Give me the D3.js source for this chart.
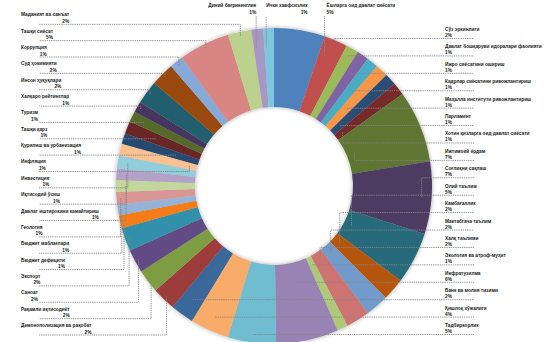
<!DOCTYPE html>
<html>
<head>
<meta charset="utf-8">
<script src="https://cdn.jsdelivr.net/npm/d3@7"></script>
<style>
  html, body { margin: 0; padding: 0; background: #fff; }
  svg { display: block; }
</style>
</head>
<body>
<svg id="chart" width="560" height="342"></svg>
<script>
// Topics, in clockwise order starting from 12 o'clock
const categories = [
  "Ёшларга оид давлат сиёсати", "Сўз эркинлиги", "Давлат бошқаруви идоралари фаолияти",
  "Ижро сиёсатини ошириш", "Кадрлар сиёсатини ривожлантириш", "Маҳалла институти ривожлантириш",
  "Парламент", "Хотин қизларга оид давлат сиёсати", "Ижтимоий ёрдам", "Соғлиқни сақлаш",
  "Олий таълим", "Камбағаллик", "Мактабгача таълим", "Халқ таълими", "Экология ва атроф-муҳит",
  "Инфратузилма", "Тадбиркорлик", "Қишлоқ хўжалиги", "Банк ва молия тизими",
  "Демонополизация ва рақобат", "Рақамли иқтисодиёт", "Саноат", "Экспорт", "Бюджет дефицити",
  "Бюджет маблағлари", "Геология", "Давлат иштирокини камайтириш", "Иқтисодий ўсиш",
  "Инвестиция", "Инфляция", "Қурилиш ва урбанизация", "Ташқи қарз", "Туризм",
  "Халқаро рейтинглар", "Инсон ҳуқуқлари", "Суд ҳокимияти", "Коррупция", "Ташқи сиёсат",
  "Маданият ва санъат", "Диний бағрикенглик", "Ички хавфсизлик"
];

// Share of each topic, percent
const values = [
  5.2, 2.4, 1.3, 1.2, 1.2, 1.3, 1.2, 1.3, 7.4, 7.4,
  5.3, 2.3, 2.4, 2.4, 1.1, 6.4, 4.9, 4.0, 2.4, 2.4,
  2.4, 2.4, 2.4, 1.3, 1.1, 1.3, 1.2, 1.2, 1.3, 1.2,
  1.1, 1.3, 1.1, 1.1, 2.4, 2.4, 1.4, 5.2, 2.4, 1.2,
  1.1
];

// Slice colours (office-style cycle)
const palette = [
  "#4F81BD", "#C0504D", "#9BBB59", "#8064A2", "#4BACC6", "#F79646",
  "#2C4D75", "#772C2A", "#5F7530", "#4D3B62", "#276A7C", "#B65708",
  "#729ACA", "#CD7371", "#AFC97A", "#9983B5", "#6FBDD1", "#F9AB6B",
  "#3A679A", "#9C3C3A", "#7E9D43", "#624C84", "#3190AA", "#F57C12",
  "#95B3D7", "#D99694", "#C3D69B", "#B3A2C7", "#92CDDC", "#FAC08F",
  "#254870", "#6A2826", "#546A2C", "#44345E", "#225F6E", "#994A08",
  "#86AAD8", "#D88584", "#BDD18F", "#A897C4", "#7DC6DC"
];

const data = categories.map((c, i) => ({ name: c, value: values[i] }));
const total = d3.sum(values);
const fmtPct = d3.format(".0%");

const cx = 274, cy = 186, outerR = 158, innerR = 79;
const svg = d3.select("#chart");

const defs = svg.append("defs");
const shadow = defs.append("filter").attr("id", "ringShadow")
  .attr("x", "-10%").attr("y", "-10%").attr("width", "120%").attr("height", "120%");
shadow.append("feDropShadow").attr("dx", 0).attr("dy", 0)
  .attr("stdDeviation", 2.2).attr("flood-color", "#000").attr("flood-opacity", 0.35);

const pie = d3.pie().sort(null).value(d => d.value);
const arcs = pie(data);
const arc = d3.arc().innerRadius(innerR).outerRadius(outerR);

const ring = svg.append("g").attr("transform", `translate(${cx},${cy})`);
ring.append("g").attr("filter", "url(#ringShadow)")
  .selectAll("path").data(arcs).join("path")
  .attr("d", arc)
  .attr("fill", (d, i) => palette[i]);

// Label slots
const rightSlots = d3.range(1, 16).concat([18, 17, 16]);
const leftSlots = d3.range(38, 18, -1);
const topSlots = [39, 40, 0];

const rightY = d3.scaleLinear().domain([0, rightSlots.length - 1]).range([29, 325]);
const leftY = d3.scaleLinear().domain([0, leftSlots.length - 1]).range([14.3, 325]);

const leaders = svg.append("g")
  .attr("fill", "none").attr("stroke", "#858585")
  .attr("stroke-width", 0.85).attr("stroke-dasharray", "1.4,0.8");
const labels = svg.append("g")
  .attr("font-family", "'Liberation Sans', Arial, sans-serif").attr("font-size", 5.8)
  .attr("font-weight", "bold").attr("fill", "#1a1a1a");

// Narrow the label face: the longest right-hand label spans about 97px
const probe = labels.append("text").text(categories[2]);
const squeeze = Math.min(1, 97 / probe.node().getComputedTextLength());
probe.remove();

function addText(x, y, str, anchor) {
  const t = labels.append("text")
    .attr("transform", `translate(${x},${y}) scale(${squeeze},1)`)
    .attr("text-anchor", anchor || "start").text(str);
  return t.node().getComputedTextLength() * squeeze;
}

const midAngle = a => (a.startAngle + a.endAngle) / 2;

// Point inside the slice on the mid-angle ray at height ly (kept within the ring)
function anchorAt(a, ly) {
  const t = midAngle(a);
  let r = (cy - ly) / Math.cos(t);
  if (!isFinite(r) || r <= 0) r = outerR - 10;
  r = Math.max(innerR + 8, Math.min(outerR - 4, r));
  return [cx + r * Math.sin(t), cy - r * Math.cos(t)];
}

// Right-hand labels
rightSlots.forEach((i, k) => {
  const yc = rightY(k);
  const ly = yc + 9.5;
  const [ax, ay] = anchorAt(arcs[i], ly);
  leaders.append("path").attr("d", `M${ax},${ay}V${ly}H474`);
  addText(445, yc + 2, categories[i]);
  addText(445, yc + 8, fmtPct(values[i] / total));
});

// Left-hand labels
leftSlots.forEach((i, k) => {
  const yc = leftY(k);
  const ly = yc + 10;
  const [ax, ay] = anchorAt(arcs[i], ly);
  leaders.append("path").attr("d", `M${ax},${ay}V${ly}H39`);
  const w = addText(21, yc + 2, categories[i]);
  addText(21 + w, yc + 8.5, fmtPct(values[i] / total), "end");
});

// Top labels with vertical leaders; each one kept clear of the one before it
const topR = 139;
let prevEnd = -Infinity;
topSlots.forEach((i, k) => {
  const t = midAngle(arcs[i]);
  let ax = cx + topR * Math.sin(t) - 3;
  if (k === 1) ax = Math.max(ax, prevEnd + 10);
  if (k === 2) ax = Math.max(ax, prevEnd + 17);
  const ay = cy - Math.sqrt(topR * topR - (ax - cx) * (ax - cx));
  leaders.append("path").attr("d", `M${ax},${ay}V16`);
  const pct = fmtPct(values[i] / total);
  if (k === 0) {
    addText(ax, 7, categories[i], "end");
    addText(ax, 14, pct, "end");
    prevEnd = ax;
  } else if (k === 1) {
    const w = addText(ax, 7, categories[i]);
    addText(ax + w, 14, pct, "end");
    prevEnd = ax + w;
  } else {
    const w = addText(ax + 2, 7, categories[i]);
    addText(ax + 2, 14, pct);
    prevEnd = ax + 2 + w;
  }
});
</script>
</body>
</html>
